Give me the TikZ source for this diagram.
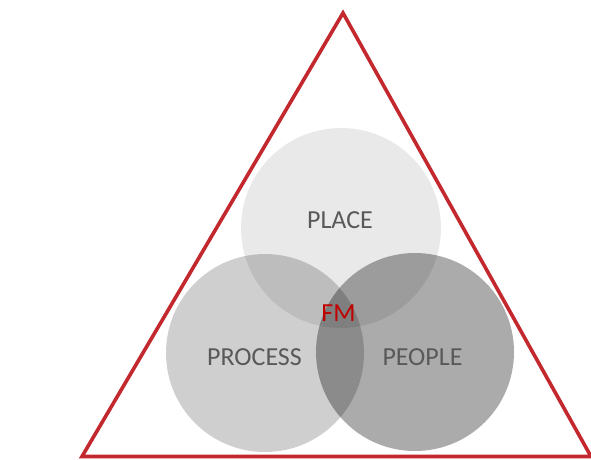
\documentclass[tikz,border=0pt]{standalone}
\usepackage{fontspec}
\setmainfont{Carlito}
\begin{document}
\begin{tikzpicture}[x=1pt,y=-1pt,
  ring/.style={fill=black,draw=none},
  label/.style={text=labelgray,font=\fontsize{26}{29}\selectfont,inner sep=0pt,anchor=center},
  frame/.style={draw=framered,line width=3.6pt,line join=miter}]
\definecolor{framered}{RGB}{194,40,45}
\definecolor{labelgray}{RGB}{89,89,89}
\definecolor{fmred}{RGB}{192,0,0}
\useasboundingbox (0,0) rectangle (591,459);
% enclosing triangle
\coordinate (apex) at (343,13);
\coordinate (bl) at (82,456.5);
\coordinate (br) at (591,456.5);
\draw[frame] (apex) -- (bl) -- (br) -- cycle;
% three overlapping circles
\fill[ring,fill opacity=0.086] (341,228) circle[radius=100];
\fill[ring,fill opacity=0.19] (265,353) circle[radius=99];
\fill[ring,fill opacity=0.33] (415,352) circle[radius=99];
% labels
\node[label] (place) at (340,220.5) {PLACE};
\node[label] (process) at (254.5,357) {PROCESS};
\node[label] (people) at (422.5,357) {PEOPLE};
\node[label,text=fmred] (fm) at (338.5,313.5) {FM};
\end{tikzpicture}
\end{document}
